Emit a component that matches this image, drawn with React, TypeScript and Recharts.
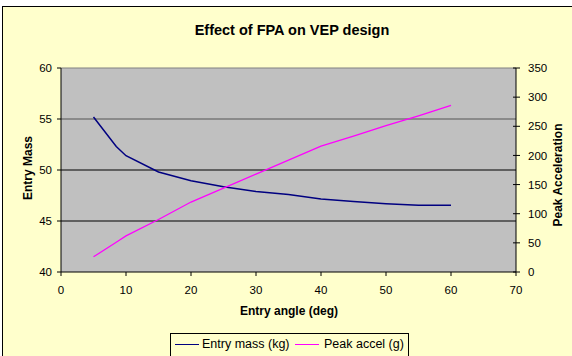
import React from "react";
import { LineChart, Line, XAxis, YAxis, CartesianGrid, ReferenceLine } from "recharts";

const angles = [5, 8.5, 10, 15, 20, 25, 30, 35, 40, 45, 50, 55, 60];
const entryMass = [55.2, 52.3, 51.4, 49.8, 48.95, 48.35, 47.9, 47.6, 47.15, 46.9, 46.7, 46.55, 46.55];
const peakAccel = [26, 51, 62, 90, 120, 144, 168, 192, 216, 233, 251, 268, 286];

const xTicks = [0, 10, 20, 30, 40, 50, 60, 70];
const leftTicks = [40, 45, 50, 55, 60];
const rightTicks = [0, 50, 100, 150, 200, 250, 300, 350];

const data = angles.map((a, i) => ({ angle: a, mass: entryMass[i], accel: peakAccel[i] }));

const FONT = "'Liberation Sans', Arial, sans-serif";
const BG = "#FFFFCC";

const RightTick = (props: any) => {
  const { x, y, payload } = props;
  return (
    <g>
      <line x1={x - 15} x2={x - 12} y1={y} y2={y} stroke="#000" />
      <text x={x} y={y} dy="0.355em" textAnchor="start" fontSize={11.5} fontFamily={FONT} fill="#000">
        {payload.value}
      </text>
    </g>
  );
};

export default function App() {
  return (
    <div style={{ position: "absolute", left: 0, top: 0, width: 572, height: 356, overflow: "hidden", background: "#fff" }}>
      <div
        style={{
          position: "absolute",
          left: 2,
          top: 6,
          width: 600,
          height: 400,
          border: "1px solid #000",
          background: BG,
        }}
      />
      <div
        style={{
          position: "absolute",
          left: 0,
          width: 584,
          top: 22,
          textAlign: "center",
          fontFamily: FONT,
          fontWeight: "bold",
          fontSize: 14.5,
          color: "#000",
        }}
      >
        Effect of FPA on VEP design
      </div>
      <div style={{ position: "absolute", left: 0, top: 0 }}>
        <LineChart width={572} height={356} data={data} margin={{ top: 68, right: 16, bottom: 54, left: 21 }}>
          <CartesianGrid
            yAxisId="left"
            vertical={false}
            horizontalValues={[45, 50]}
            stroke="#000"
            fill="#C0C0C0"
            fillOpacity={1}
          />
          <ReferenceLine yAxisId="left" y={55} stroke="#555" />
          <ReferenceLine yAxisId="left" y={60} stroke="#808080" />
          <XAxis
            dataKey="angle"
            type="number"
            domain={[0, 70]}
            ticks={xTicks}
            height={30}
            tickSize={4}
            tickMargin={10}
            axisLine={{ stroke: "#000" }}
            tickLine={{ stroke: "#000" }}
            tick={{ fontSize: 11.5, fontFamily: FONT, fill: "#000" }}
            allowDataOverflow
          />
          <YAxis
            yAxisId="left"
            orientation="left"
            domain={[40, 60]}
            ticks={leftTicks}
            width={40}
            tickSize={4}
            tickMargin={5}
            axisLine={{ stroke: "#000" }}
            tickLine={{ stroke: "#000" }}
            tick={{ fontSize: 11.5, fontFamily: FONT, fill: "#000" }}
            allowDataOverflow
          />
          <YAxis
            yAxisId="right"
            orientation="right"
            domain={[0, 350]}
            ticks={rightTicks}
            width={40}
            tickSize={4}
            tickMargin={8}
            axisLine={{ stroke: "#000" }}
            tickLine={{ stroke: "#000" }}
            tick={<RightTick />}
            allowDataOverflow
          />
          <Line
            yAxisId="left"
            dataKey="mass"
            type="linear"
            stroke="#000080"
            strokeWidth={1.5}
            dot={false}
            isAnimationActive={false}
          />
          <Line
            yAxisId="right"
            dataKey="accel"
            type="linear"
            stroke="#FF00FF"
            strokeWidth={1.25}
            dot={false}
            isAnimationActive={false}
          />
        </LineChart>
      </div>
      <div
        style={{
          position: "absolute",
          left: 28 - 60,
          top: 168 - 8,
          width: 120,
          textAlign: "center",
          transform: "rotate(-90deg)",
          fontFamily: FONT,
          fontWeight: "bold",
          fontSize: 12,
          lineHeight: "16px",
          color: "#000",
        }}
      >
        Entry Mass
      </div>
      <div
        style={{
          position: "absolute",
          left: 558 - 70,
          top: 175 - 8,
          width: 140,
          textAlign: "center",
          transform: "rotate(-90deg)",
          fontFamily: FONT,
          fontWeight: "bold",
          fontSize: 12,
          lineHeight: "16px",
          color: "#000",
        }}
      >
        Peak Acceleration
      </div>
      <div
        style={{
          position: "absolute",
          left: 189,
          width: 200,
          top: 303,
          textAlign: "center",
          fontFamily: FONT,
          fontWeight: "bold",
          fontSize: 12,
          lineHeight: "16px",
          color: "#000",
        }}
      >
        Entry angle (deg)
      </div>
      <div
        style={{
          position: "absolute",
          left: 170,
          top: 333,
          width: 237,
          height: 40,
          border: "1px solid #000",
          background: BG,
          fontFamily: FONT,
          fontSize: 12.5,
          color: "#000",
        }}
      >
        <div style={{ position: "absolute", left: 4, top: 10, width: 24, height: 1, background: "#000080" }} />
        <div style={{ position: "absolute", left: 31, top: 2, lineHeight: "16px", whiteSpace: "nowrap" }}>Entry mass (kg)</div>
        <div style={{ position: "absolute", left: 124, top: 10, width: 24, height: 1, background: "#FF00FF" }} />
        <div style={{ position: "absolute", left: 153, top: 2, lineHeight: "16px", whiteSpace: "nowrap" }}>Peak accel (g)</div>
      </div>
    </div>
  );
}
